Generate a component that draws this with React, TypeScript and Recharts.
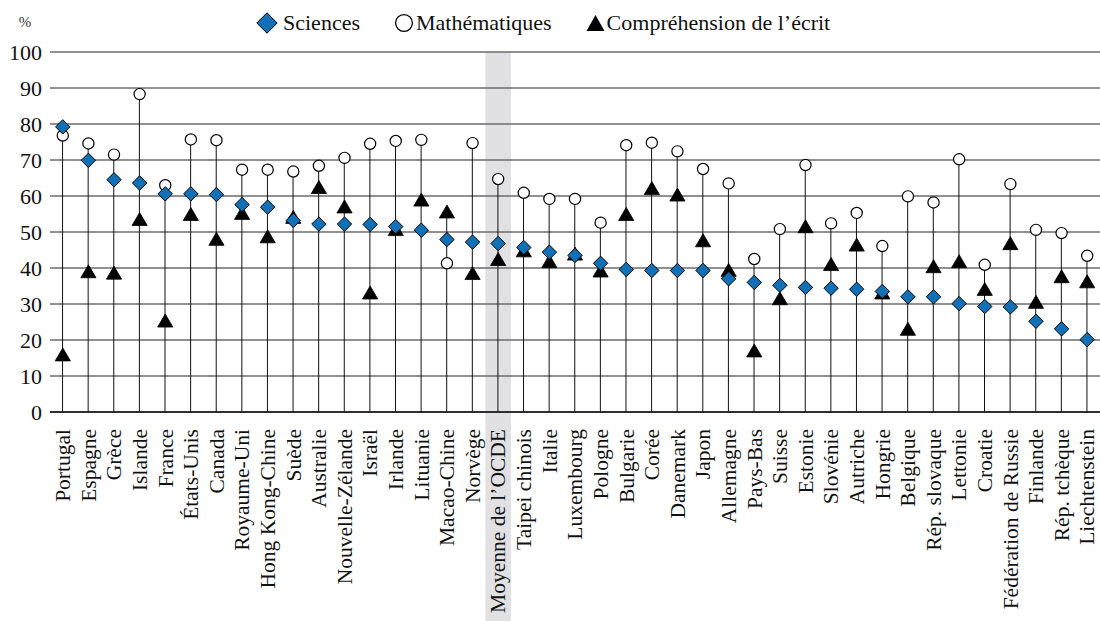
import React from 'react';
import {
  ComposedChart,
  Bar,
  Scatter,
  XAxis,
  YAxis,
  CartesianGrid,
  ReferenceArea,
  Legend,
} from 'recharts';

const categories = [
  'Portugal', 'Espagne', 'Grèce', 'Islande', 'France', 'États-Unis', 'Canada',
  'Royaume-Uni', 'Hong Kong-Chine', 'Suède', 'Australie', 'Nouvelle-Zélande',
  'Israël', 'Irlande', 'Lituanie', 'Macao-Chine', 'Norvège', 'Moyenne de l’OCDE',
  'Taipei chinois', 'Italie', 'Luxembourg', 'Pologne', 'Bulgarie', 'Corée',
  'Danemark', 'Japon', 'Allemagne', 'Pays-Bas', 'Suisse', 'Estonie', 'Slovénie',
  'Autriche', 'Hongrie', 'Belgique', 'Rép. slovaque', 'Lettonie', 'Croatie',
  'Fédération de Russie', 'Finlande', 'Rép. tchèque', 'Liechtenstein',
];

const sciences = [
  79.2, 69.9, 64.5, 63.6, 60.6, 60.6, 60.4, 57.6, 56.9, 53.2, 52.2, 52.2, 52.1,
  51.5, 50.5, 47.9, 47.2, 46.8, 45.7, 44.4, 43.5, 41.3, 39.6, 39.3, 39.3, 39.3,
  37.0, 36.0, 35.2, 34.6, 34.4, 34.1, 33.5, 32.0, 32.0, 30.1, 29.3, 29.2, 25.2,
  23.1, 20.1,
];

const maths = [
  76.8, 74.6, 71.5, 88.3, 63.0, 75.7, 75.5, 67.3, 67.3, 66.8, 68.4, 70.6, 74.5,
  75.3, 75.6, 41.3, 74.7, 64.7, 60.9, 59.2, 59.2, 52.6, 74.1, 74.8, 72.4, 67.5,
  63.5, 42.5, 50.8, 68.6, 52.4, 55.3, 46.1, 59.9, 58.2, 70.2, 40.9, 63.3, 50.6,
  49.7, 43.4,
];

const reading = [
  16.0, 39.1, 38.7, 53.6, 25.4, 55.0, 48.1, 55.3, 48.8, 54.2, 62.5, 57.1, 33.2,
  50.8, 59.0, 55.7, 38.6, 42.5, 44.9, 41.9, 44.0, 39.3, 55.0, 62.2, 60.4, 47.7,
  39.5, 17.1, 31.6, 51.6, 41.1, 46.5, 33.2, 23.1, 40.5, 41.9, 34.2, 46.9, 30.6,
  37.7, 36.3,
];

const yTicks = [0, 10, 20, 30, 40, 50, 60, 70, 80, 90, 100];
const highlighted = 'Moyenne de l’OCDE';
const unitLabel = '%';
const legendItems = [
  { label: 'Sciences', shape: 'diamond' },
  { label: 'Mathématiques', shape: 'circle' },
  { label: 'Compréhension de l’écrit', shape: 'triangle' },
];

const data = categories.map((name, i) => ({
  name,
  sci: sciences[i],
  math: maths[i],
  read: reading[i],
  stem: Math.max(sciences[i], maths[i], reading[i]),
}));

const FONT = "'Liberation Serif', 'DejaVu Serif', serif";
const BLUE = '#1271b6';
const X_AXIS_HEIGHT = 209;

const Stem = (p: any) => {
  if (p.x == null || p.height == null) return null;
  const cx = p.x + p.width / 2;
  return <line x1={cx} x2={cx} y1={p.y} y2={p.y + p.height} stroke="#111" strokeWidth={1} />;
};

const Diamond = (p: any) => {
  const { cx, cy } = p;
  const h = 7.2;
  return (
    <polygon
      points={`${cx},${cy - h} ${cx + h},${cy} ${cx},${cy + h} ${cx - h},${cy}`}
      fill={BLUE}
      stroke="#000"
      strokeWidth={1}
    />
  );
};

const Circle = (p: any) => (
  <circle cx={p.cx} cy={p.cy} r={5.6} fill="#fff" stroke="#000" strokeWidth={1.2} />
);

const Triangle = (p: any) => {
  const { cx, cy } = p;
  return (
    <polygon
      points={`${cx},${cy - 6.5} ${cx + 7.6},${cy + 6.5} ${cx - 7.6},${cy + 6.5}`}
      fill="#000"
      stroke="#000"
      strokeWidth={0.8}
    />
  );
};

const XTick = (p: any) => {
  const { x, y, payload } = p;
  return (
    <text
      x={x}
      y={y + 9}
      transform={`rotate(-90, ${x}, ${y + 9})`}
      textAnchor="end"
      dy="0.34em"
      fontFamily={FONT}
      fontSize={21.5}
      fill="#111"
    >
      {payload.value}
    </text>
  );
};

const LegendIcon = ({ shape }: { shape: string }) => {
  if (shape === 'diamond') {
    return (
      <svg width={22} height={22} style={{ display: 'block' }}>
        <polygon points="11,0.8 21.2,11 11,21.2 0.8,11" fill={BLUE} stroke="#000" strokeWidth={1} />
      </svg>
    );
  }
  if (shape === 'circle') {
    return (
      <svg width={20} height={20} style={{ display: 'block' }}>
        <circle cx={10} cy={10} r={8.4} fill="#fff" stroke="#000" strokeWidth={1.3} />
      </svg>
    );
  }
  return (
    <svg width={19} height={18} style={{ display: 'block' }}>
      <polygon points="9.5,1 18.5,17 0.5,17" fill="#000" />
    </svg>
  );
};

const LegendContent = () => (
  <div
    style={{
      height: 40,
      display: 'flex',
      alignItems: 'center',
      paddingLeft: 256,
      fontFamily: FONT,
      fontSize: 22,
      color: '#111',
      whiteSpace: 'nowrap',
    }}
  >
    {legendItems.map((it, i) => (
      <div
        key={it.label}
        style={{ display: 'flex', alignItems: 'center', marginLeft: i === 0 ? 0 : 34 }}
      >
        <LegendIcon shape={it.shape} />
        <span style={{ marginLeft: it.shape === 'diamond' ? 5 : 2 }}>{it.label}</span>
      </div>
    ))}
  </div>
);

const UnitLabel = (p: any) => {
  const vb = p.viewBox || { x: 0, y: 0, width: 0 };
  return (
    <text
      x={vb.x + 25}
      y={vb.y - 25}
      textAnchor="middle"
      fontFamily={FONT}
      fontSize={15}
      fill="#333"
    >
      {unitLabel}
    </text>
  );
};

const Band = (p: any) => (
  <rect x={p.x} y={p.y} width={p.width} height={p.height + X_AXIS_HEIGHT} fill="#e1e1e3" />
);

export default function App() {
  return (
    <div
      style={{
        position: 'absolute',
        left: 0,
        top: 0,
        width: 1100,
        height: 621,
        overflow: 'hidden',
        background: '#fff',
      }}
    >
      <ComposedChart
        width={1100}
        height={621}
        data={data}
        margin={{ top: 12, right: 0, left: 0, bottom: 0 }}
      >
        <ReferenceArea
          x1={highlighted}
          x2={highlighted}
          ifOverflow="visible"
          shape={Band}
          zIndex={-150}
        />
        <CartesianGrid vertical={false} stroke="#6b6b6b" strokeWidth={1.3} />
        <XAxis
          dataKey="name"
          interval={0}
          height={X_AXIS_HEIGHT}
          tickLine={false}
          axisLine={{ stroke: '#111', strokeWidth: 1.3 }}
          tick={<XTick />}
        />
        <YAxis
          width={50}
          domain={[0, 100]}
          ticks={yTicks}
          tickLine={false}
          axisLine={false}
          tick={{ fontFamily: FONT, fontSize: 22, fill: '#111' }}
          label={<UnitLabel />}
        />
        <Legend
          verticalAlign="top"
          content={<LegendContent />}
          wrapperStyle={{ top: 3, left: 0, width: 1100 }}
        />
        <Bar dataKey="stem" shape={<Stem />} isAnimationActive={false} legendType="none" />
        <Scatter dataKey="read" shape={<Triangle />} isAnimationActive={false} legendType="none" />
        <Scatter dataKey="math" shape={<Circle />} isAnimationActive={false} legendType="none" />
        <Scatter dataKey="sci" shape={<Diamond />} isAnimationActive={false} legendType="none" />
      </ComposedChart>
    </div>
  );
}
